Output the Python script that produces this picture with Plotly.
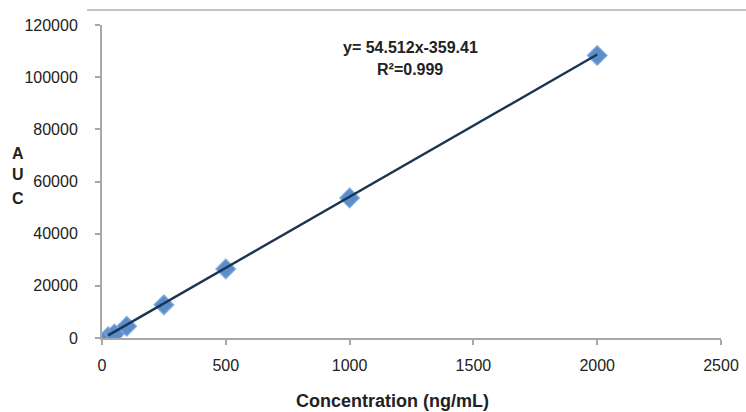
import plotly.graph_objects as go

conc = [25, 50, 100, 250, 500, 1000, 2000]
auc = [500, 1500, 4500, 12700, 26500, 53700, 108300]
slope = 54.512
intercept = -359.41
x_ticks = [0, 500, 1000, 1500, 2000, 2500]
y_ticks = [0, 20000, 40000, 60000, 80000, 100000, 120000]
y_tick_text = ["0", "20000", "40000", "60000", "80000", "100000", "120000"]

fit_x = [conc[0], conc[-1]]
fit_y = [slope * v + intercept for v in fit_x]

# outer area (includes the top rule), inner plot area
OL, OT, OR, OB = 87, 11, 746, 338
PL, PR, PT = 102, 721, 25
OW, OH = OR - OL, OB - OT


def px(x):
    return (x - OL) / OW


def py(y):
    return (OB - y) / OH


fig = go.Figure()
fig.add_trace(go.Scatter(
    x=conc, y=auc, mode="markers",
    marker=dict(symbol="diamond", size=15, color="#5A8DCA",
                line=dict(width=1.5, color="rgba(120,165,215,0.8)")),
    showlegend=False))
fig.add_trace(go.Scatter(
    x=fit_x, y=fit_y, mode="lines",
    line=dict(color="#1B3452", width=2.4), showlegend=False))
fig.add_trace(go.Scatter(x=[None], y=[None], xaxis="x2", yaxis="y2",
                         showlegend=False, hoverinfo="skip"))

font = "Liberation Sans, Arial, sans-serif"
axis_common = dict(showgrid=False, zeroline=False,
                   showline=True, linecolor="#A8A8A8", linewidth=2,
                   ticks="outside", ticklen=5, tickcolor="#A8A8A8", tickwidth=2,
                   tickfont=dict(size=16, color="#222", family=font))
hidden = dict(showgrid=False, zeroline=False, showticklabels=False, ticks="",
              range=[0, 1], fixedrange=True)


def note(text, x, y, size):
    return dict(text=text, xref="paper", yref="paper", x=px(x), y=py(y),
                xanchor="center", yanchor="middle", showarrow=False,
                font=dict(size=size, color="#222"))


fig.update_layout(
    width=746, height=412,
    margin=dict(l=OL, r=746 - OR, t=OT, b=412 - OB, autoexpand=False),
    paper_bgcolor="white", plot_bgcolor="rgba(0,0,0,0)",
    font=dict(family=font, size=13, color="#222"),
    xaxis=dict(range=[0, 2500], tickvals=x_ticks, ticklabelstandoff=7,
               domain=[px(PL), px(PR)], anchor="y", **axis_common),
    yaxis=dict(range=[0, 120000], tickvals=y_ticks, ticktext=y_tick_text,
               ticklabelstandoff=14, domain=[0, py(PT)], anchor="x", **axis_common),
    xaxis2=dict(domain=[0, 1], anchor="y2", side="top", showline=True,
                linecolor="#C4C4C4", linewidth=1.5, **hidden),
    yaxis2=dict(domain=[0, 1], anchor="x2", showline=False, **hidden),
    annotations=[
        note("<b>y= 54.512x-359.41</b>", 410, 47, 16),
        note("<b>R²=0.999</b>", 410, 69, 16),
        note("<b>Concentration (ng/mL)</b>", 392, 401, 18),
        note("<b>A</b>", 18, 153, 16),
        note("<b>U</b>", 18, 175, 16),
        note("<b>C</b>", 18, 198, 16),
    ],
)
fig.write_html("out.html", config={"displayModeBar": False},
               post_script="document.body.style.margin='0';")
